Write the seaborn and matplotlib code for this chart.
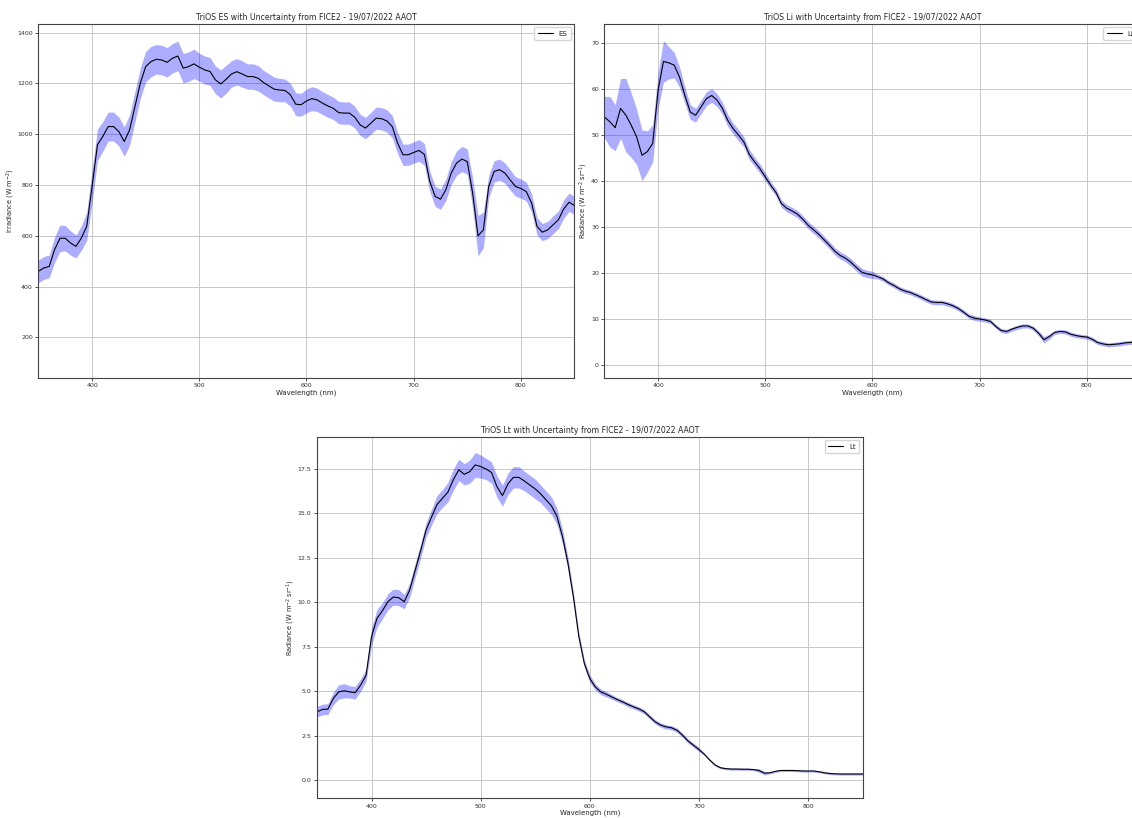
import numpy as np
import pandas as pd
import matplotlib
matplotlib.use("Agg")
import matplotlib.pyplot as plt
import seaborn as sns

# ---------------- data ----------------
wavelength = np.arange(350, 851, 5)

es_values = [460, 473, 479, 545, 590, 590, 571, 558, 591, 637,
             794, 958, 991, 1030, 1030, 1010, 971, 1017, 1109, 1201,
             1266, 1286, 1295, 1292, 1283, 1299, 1308, 1260, 1266, 1277,
             1264, 1253, 1247, 1214, 1198, 1216, 1237, 1246, 1237, 1227,
             1227, 1220, 1203, 1190, 1177, 1174, 1172, 1155, 1118, 1116,
             1131, 1140, 1135, 1122, 1111, 1102, 1085, 1083, 1083, 1067,
             1037, 1024, 1043, 1063, 1061, 1052, 1030, 965, 919, 919,
             928, 936, 920, 814, 755, 744, 781, 847, 886, 902,
             892, 768, 600, 623, 794, 853, 860, 847, 820, 794,
             786, 774, 729, 637, 614, 623, 643, 663, 706, 732,
             719]
es_unc = [45, 45, 45, 50, 52, 50, 48, 45, 48, 55,
          65, 62, 58, 57, 57, 57, 58, 60, 60, 60,
          60, 60, 58, 58, 58, 58, 58, 58, 58, 58,
          55, 55, 55, 55, 55, 55, 52, 52, 52, 50,
          50, 50, 48, 48, 47, 46, 45, 45, 45, 45,
          47, 47, 46, 45, 45, 44, 44, 44, 44, 43,
          42, 42, 43, 44, 44, 44, 44, 42, 42, 42,
          42, 43, 43, 40, 40, 40, 42, 45, 48, 50,
          50, 60, 80, 70, 45, 42, 42, 40, 40, 38,
          38, 37, 36, 34, 34, 34, 35, 35, 36, 36,
          36]

li_values = [53.9, 52.9, 51.6, 55.8, 54.3, 52.1, 49.6, 45.6, 46.4, 48.2,
             59.7, 66.0, 65.7, 65.2, 62.6, 58.6, 55.0, 54.3, 56.1, 57.9,
             58.6, 57.6, 55.8, 53.2, 51.4, 50.0, 48.5, 45.8, 44.2, 42.7,
             40.9, 39.1, 37.5, 35.1, 34.1, 33.5, 32.8, 31.7, 30.4, 29.4,
             28.4, 27.2, 26.0, 24.7, 23.8, 23.2, 22.3, 21.2, 20.2, 19.8,
             19.6, 19.2, 18.7, 17.9, 17.3, 16.6, 16.1, 15.8, 15.3, 14.8,
             14.2, 13.7, 13.6, 13.6, 13.3, 12.9, 12.3, 11.5, 10.6, 10.2,
             10.0, 9.8, 9.5, 8.4, 7.5, 7.3, 7.8, 8.2, 8.5, 8.5,
             8.0, 6.9, 5.5, 6.2, 7.1, 7.3, 7.2, 6.7, 6.4, 6.2,
             6.1, 5.6, 4.9, 4.6, 4.4, 4.5, 4.6, 4.8, 4.9, 5.0,
             5.1]
li_unc = [4.5, 5.5, 5.0, 6.5, 8.0, 7.0, 6.0, 5.5, 4.5, 4.0,
          4.0, 4.5, 3.5, 2.8, 2.2, 1.8, 1.6, 1.5, 1.5, 1.5,
          1.5, 1.4, 1.3, 1.3, 1.2, 1.2, 1.1, 1.1, 1.0, 1.0,
          0.9, 0.8, 0.8, 0.8, 0.8, 0.8, 0.8, 0.8, 0.8, 0.8,
          0.8, 0.8, 0.8, 0.8, 0.8, 0.8, 0.8, 0.8, 0.8, 0.8,
          0.8, 0.5, 0.5, 0.5, 0.5, 0.5, 0.5, 0.5, 0.5, 0.5,
          0.5, 0.5, 0.5, 0.5, 0.5, 0.5, 0.5, 0.5, 0.5, 0.5,
          0.5, 0.45, 0.45, 0.45, 0.45, 0.45, 0.45, 0.45, 0.45, 0.45,
          0.45, 0.55, 0.7, 0.55, 0.45, 0.45, 0.45, 0.45, 0.45, 0.45,
          0.45, 0.45, 0.45, 0.45, 0.45, 0.45, 0.45, 0.45, 0.45, 0.45,
          0.45]

lt_values = [3.85, 3.98, 4.0, 4.6, 4.97, 5.03, 4.97, 4.92, 5.35, 5.9,
             8.07, 9.1, 9.53, 10.04, 10.3, 10.26, 10.04, 10.7, 11.8, 12.9,
             14.07, 14.8, 15.5, 15.85, 16.2, 16.9, 17.45, 17.2, 17.35, 17.73,
             17.64, 17.5, 17.3, 16.5, 16.0, 16.66, 17.03, 17.03, 16.83, 16.6,
             16.38, 16.1, 15.76, 15.42, 14.82, 13.7, 12.2, 10.3, 8.07, 6.57,
             5.72, 5.25, 4.97, 4.84, 4.69, 4.54, 4.41, 4.26, 4.13, 4.01,
             3.85, 3.56, 3.28, 3.1, 3.0, 2.95, 2.81, 2.53, 2.21, 1.97,
             1.73, 1.46, 1.13, 0.85, 0.7, 0.65, 0.63, 0.63, 0.62, 0.62,
             0.6, 0.55, 0.4, 0.42, 0.5, 0.55, 0.55, 0.55, 0.54, 0.52,
             0.52, 0.52, 0.48, 0.42, 0.38, 0.36, 0.35, 0.35, 0.35, 0.35,
             0.35]
lt_unc = [0.3, 0.3, 0.3, 0.35, 0.4, 0.4, 0.35, 0.35, 0.35, 0.35,
          0.5, 0.5, 0.45, 0.45, 0.45, 0.45, 0.4, 0.4,
          0.4, 0.4, 0.4, 0.45, 0.5, 0.5, 0.55,
          0.6, 0.6, 0.6, 0.65, 0.7, 0.65, 0.6, 0.6, 0.6, 0.6,
          0.6, 0.6, 0.6, 0.55, 0.55, 0.55, 0.5, 0.5,
          0.5, 0.45, 0.4, 0.35,
          0.3, 0.25, 0.22, 0.2, 0.18, 0.16, 0.15, 0.14,
          0.12, 0.12, 0.12, 0.12, 0.12, 0.12, 0.12, 0.12,
          0.12, 0.12, 0.12, 0.12, 0.12, 0.12, 0.12, 0.12,
          0.06, 0.06, 0.06, 0.06, 0.06, 0.06, 0.06, 0.06, 0.06, 0.06,
          0.1, 0.1, 0.06, 0.06, 0.06, 0.06, 0.06, 0.06, 0.06, 0.06,
          0.06, 0.06, 0.06, 0.06, 0.06, 0.06, 0.06, 0.06, 0.06, 0.06]

panels = [
    dict(name="ES", values=es_values, unc=es_unc,
         title="TriOS ES with Uncertainty from FICE2 - 19/07/2022 AAOT",
         ylabel="Irradiance (W m$^{-2}$)",
         yticks=[200, 400, 600, 800, 1000, 1200, 1400], ylim=(40, 1435),
         fmt="{:.0f}"),
    dict(name="Li", values=li_values, unc=li_unc,
         title="TriOS Li with Uncertainty from FICE2 - 19/07/2022 AAOT",
         ylabel="Radiance (W m$^{-2}$ sr$^{-1}$)",
         yticks=[0, 10, 20, 30, 40, 50, 60, 70], ylim=(-2.8, 74.2),
         fmt="{:.0f}"),
    dict(name="Lt", values=lt_values, unc=lt_unc,
         title="TriOS Lt with Uncertainty from FICE2 - 19/07/2022 AAOT",
         ylabel="Radiance (W m$^{-2}$ sr$^{-1}$)",
         yticks=[0.0, 2.5, 5.0, 7.5, 10.0, 12.5, 15.0, 17.5], ylim=(-1.0, 19.3),
         fmt="{:.1f}"),
]

# ---------------- style ----------------
sns.set_theme(style="whitegrid", rc={
    "axes.edgecolor": "#444444",
    "axes.linewidth": 0.8,
    "grid.color": "#c8c8c8",
    "grid.linewidth": 0.7,
    "xtick.bottom": True,
    "ytick.left": True,
    "xtick.major.size": 2.0,
    "ytick.major.size": 2.0,
    "xtick.major.width": 0.6,
    "ytick.major.width": 0.6,
    "xtick.color": "#333333",
    "ytick.color": "#333333",
})
plt.rcParams["font.family"] = ["DejaVu Sans"]

fig = plt.figure(figsize=(11.32, 8.18), dpi=100)
positions = [
    [0.034, 0.538, 0.4735, 0.433],
    [0.534, 0.538, 0.4735, 0.433],
    [0.280, 0.0244, 0.482, 0.4414],
]

for pos, p in zip(positions, panels):
    ax = fig.add_axes(pos)
    df = pd.DataFrame({"Wavelength": wavelength,
                       "value": np.asarray(p["values"], dtype=float),
                       "unc": np.asarray(p["unc"], dtype=float)})
    ax.fill_between(df["Wavelength"], df["value"] - df["unc"], df["value"] + df["unc"],
                    color="blue", alpha=0.32, linewidth=0)
    sns.lineplot(data=df, x="Wavelength", y="value", ax=ax, color="black",
                 linewidth=0.8, label=p["name"])
    ax.set_xlim(350, 850)
    ax.set_ylim(*p["ylim"])
    ax.set_xticks([400, 500, 600, 700, 800])
    ax.set_yticks(p["yticks"])
    ax.set_yticklabels([p["fmt"].format(t) for t in p["yticks"]])
    ax.tick_params(labelsize=4.5, pad=2)
    ax.set_xlabel("Wavelength (nm)", fontsize=5, labelpad=1)
    ax.set_ylabel(p["ylabel"], fontsize=4.8, labelpad=0.5)
    ax.set_title(p["title"], fontsize=5.6, pad=3)
    ax.legend(loc="upper right", fontsize=5, frameon=True, handlelength=2.2,
              borderpad=0.5, fancybox=True, framealpha=0.8)
    ax.grid(True)

fig.savefig("out.png", dpi=100)
